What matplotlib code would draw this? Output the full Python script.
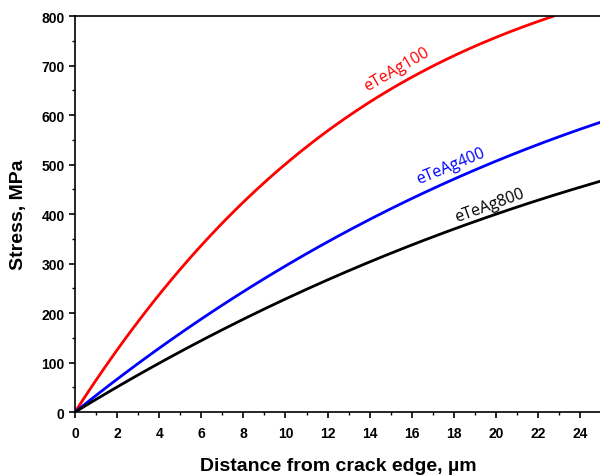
import matplotlib
matplotlib.use("Agg")
import matplotlib.pyplot as plt
import numpy as np

x_red = [0, 2, 4, 5.2, 6, 8, 10, 12, 14, 16, 18, 20, 22, 22.8]
red_vals = [0, 127, 246, 298, 335, 420, 499, 568, 627, 677, 721, 760, 788, 800]

x_all = [0, 2, 4, 6, 8, 10, 12, 14, 16, 18, 20, 22, 24, 25]
blue_vals = [0, 71, 130, 186, 242, 295, 344, 390, 432, 471, 507, 540, 572, 586]
black_vals = [0, 46, 94, 141, 191, 232, 270, 305, 338, 368, 398, 425, 452, 472]

labels = ["eTeAg100", "eTeAg400", "eTeAg800"]

plt.rcParams['font.family'] = ['Liberation Sans', 'DejaVu Sans']


def smooth_fit(xs, ys, xf):
    # least-squares cubic through the origin
    xs = np.asarray(xs, float); ys = np.asarray(ys, float)
    A = np.vstack([xs, xs**2, xs**3]).T
    coef, *_ = np.linalg.lstsq(A, ys, rcond=None)
    return coef[0] * xf + coef[1] * xf**2 + coef[2] * xf**3


fig = plt.figure(figsize=(6, 4.77), dpi=100)
ax = fig.add_axes([0.125, 0.134, 0.877, 0.83])

for xs, ys, c in [(x_red, red_vals, 'red'), (x_all, blue_vals, 'blue'), (x_all, black_vals, 'black')]:
    xf = np.linspace(xs[0], xs[-1], 400)
    ax.plot(xf, smooth_fit(xs, ys, xf), color=c, lw=2.0, solid_capstyle='butt')

ax.set_xlim(0, 25)
ax.set_ylim(0, 800)
ax.set_xticks(np.arange(0, 25, 2))
ax.set_xticks(np.arange(0, 26, 1), minor=True)
ax.set_yticks(np.arange(0, 801, 100))
ax.set_yticks(np.arange(0, 801, 50), minor=True)
ax.tick_params(which='major', direction='out', length=4, width=1.2, labelsize=10)
ax.tick_params(axis='x', which='major', pad=6)
ax.tick_params(which='minor', direction='out', length=2, width=1.0)
for lab in ax.get_xticklabels() + ax.get_yticklabels():
    lab.set_fontweight('bold')
for s in ['left', 'bottom', 'top']:
    ax.spines[s].set_linewidth(1.2)
ax.spines['right'].set_visible(False)

ax.set_xlabel("Distance from crack edge, µm", fontsize=14, fontweight='bold', labelpad=12)
ax.set_ylabel("Stress, MPa", fontsize=14, fontweight='bold', labelpad=10)

tf = ['Open Sans', 'DejaVu Sans']
ax.text(15.3, 693, labels[0], color='red', rotation=30, fontsize=11.5, family=tf, ha='center', va='center')
ax.text(17.85, 497, labels[1], color='blue', rotation=22.5, fontsize=11.5, family=tf, ha='center', va='center')
ax.text(19.7, 418, labels[2], color='black', rotation=20, fontsize=11.5, family=tf, ha='center', va='center')

fig.savefig("out.png", dpi=100)
